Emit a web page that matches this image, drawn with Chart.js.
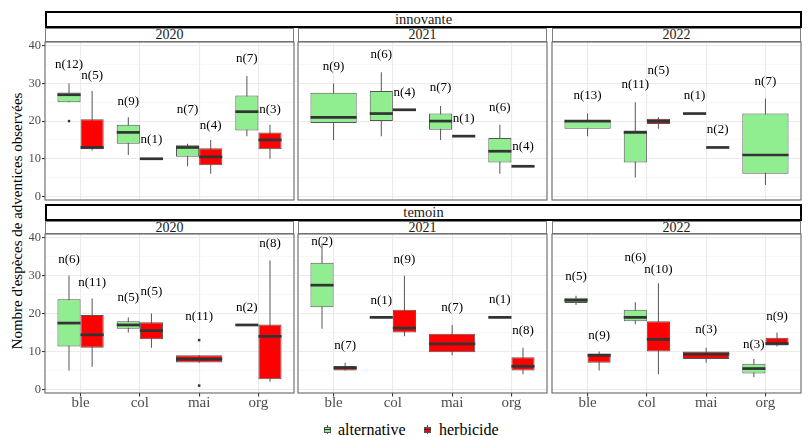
<!DOCTYPE html>
<html>
<head>
<meta charset="utf-8">
<script src="https://cdn.jsdelivr.net/npm/chart.js@4.4.1/dist/chart.umd.min.js"></script>
<style>
  body { margin: 0; background: #fff; font-family: "Liberation Serif", serif; }
  #wrap { position: relative; width: 809px; height: 437px; overflow: hidden; background: #fff; font-family: "Liberation Serif", serif; }
  canvas { position: absolute; }
  .outer, .year { position: absolute; box-sizing: border-box; text-align: center; color: #1a1a1a; background: #fff; font-family: "Liberation Serif", serif; }
  .outer { border: 2px solid #000; font-size: 14.5px; line-height: 13px; }
  .year { border: 1px solid #808080; font-size: 14px; line-height: 12px; }
  .ytitle { position: absolute; width: 320px; height: 20px; line-height: 20px; text-align: center; font-family: "Liberation Serif", serif;
            font-size: 15px; color: #000; transform: rotate(-90deg); transform-origin: 50% 50%; white-space: nowrap; }
  .key { position: absolute; width: 7px; height: 9px; }
  .key .w { position: absolute; left: 3px; top: 0; width: 1px; height: 9px; background: #555; }
  .key .b { position: absolute; left: 0; top: 1.5px; width: 7px; height: 6px; box-sizing: border-box; border: 1px solid #555; }
  .key .m { position: absolute; left: 0; top: 3.8px; width: 7px; height: 1.5px; background: #333; }
  .lgtext { position: absolute; font-family: "Liberation Serif", serif; font-size: 16px; line-height: 20px; color: #000; white-space: nowrap; }
</style>
</head>
<body>
<div id="wrap"></div>
<script>
const categories = ["ble", "col", "mai", "org"];
const years = ["2020", "2021", "2022"];
const systems = ["innovante", "temoin"];
const groupNames = ["alternative", "herbicide"];

// five numbers per category: [min, q1, median, q3, max]; null = no plot
const innovante2020Alt = [[25, 25, 27, 27.6, 30], [11, 14, 17, 19, 21], [8, 10.5, 13, 13.6, 14], [16, 17.5, 22.5, 26.8, 32]];
const innovante2020Herb = [[12.2, 12.5, 13, 20.5, 28], [10, 10, 10, 10, 10], [6, 8.3, 10.5, 12.8, 15], [10, 12.5, 15, 17, 19]];
const innovante2021Alt = [[15, 19.5, 21, 27.5, 30], [16, 20, 22, 28, 33], [15, 17.7, 20, 22, 24], [6, 9, 12, 15.5, 19]];
const innovante2021Herb = [null, [23, 23, 23, 23, 23], [16, 16, 16, 16, 16], [8, 8, 8, 8, 8]];
const innovante2022Alt = [[16, 18, 20, 20.2, 22], [5, 9, 17, 17.5, 25], [22, 22, 22, 22, 22], [3, 6, 11, 22, 26]];
const innovante2022Herb = [null, [18, 19.2, 20, 20.6, 21], [13, 13, 13, 13, 13], null];
const temoin2020Alt = [[5, 11.3, 17.5, 23.8, 30], [15, 16, 17, 18, 19], null, [17, 17, 17, 17, 17]];
const temoin2020Herb = [[6, 11, 14.4, 19.6, 24], [11, 13.2, 15.5, 17.7, 20], [7, 7.1, 8, 9, 9], [2, 2.7, 14, 17.1, 34]];
const temoin2021Alt = [[16, 21.7, 27.5, 33.4, 38.5], [19, 19, 19, 19, 19], null, [19, 19, 19, 19, 19]];
const temoin2021Herb = [[5, 5, 5.7, 6.2, 7], [14, 15, 16.2, 21, 30], [9, 9.8, 12, 14.7, 17], [4, 5, 6.1, 8.5, 11]];
const temoin2022Alt = [[22.3, 22.8, 23.5, 24.2, 24.7], [17.2, 18, 19, 21, 23], null, [3.2, 4.2, 5.5, 6.8, 8]];
const temoin2022Herb = [[5, 7, 9, 9.5, 10], [4, 10, 13.2, 18, 28], [7, 8, 9.3, 10, 11], [11.3, 11.6, 12.1, 13.6, 15]];

// outliers per category
const innovante2020AltOut = [[20], [], [], []];
const temoin2020HerbOut = [[], [], [13, 1], []];
const noOut = [[], [], [], []];

// sample sizes shown as n(...)
const innovante2020AltN = [12, 9, 7, 7];
const innovante2020HerbN = [5, 1, 4, 3];
const innovante2021AltN = [9, 6, 7, 6];
const innovante2021HerbN = [null, 4, 1, 4];
const innovante2022AltN = [13, 11, 1, 7];
const innovante2022HerbN = [null, 5, 2, null];
const temoin2020AltN = [6, 5, null, 2];
const temoin2020HerbN = [11, 5, 11, 8];
const temoin2021AltN = [2, 1, null, 1];
const temoin2021HerbN = [7, 9, 7, 8];
const temoin2022AltN = [5, 6, null, 3];
const temoin2022HerbN = [9, 10, 3, 9];

// height (y value) of the n(...) labels
const innovante2020AltLab = [35, 25.2, 23, 36.5];
const innovante2020HerbLab = [32, 15.2, 18.9, 23];
const innovante2021AltLab = [34.5, 37.6, 28.8, 23.7];
const innovante2021HerbLab = [null, 27.7, 20.8, 13.2];
const innovante2022AltLab = [26.8, 29.8, 26.8, 30.4];
const innovante2022HerbLab = [null, 33.4, 17.7, null];
const temoin2020AltLab = [34.3, 24.1, null, 21.6];
const temoin2020HerbLab = [28.1, 25.7, 19.1, 38.4];
const temoin2021AltLab = [39, 23.5, null, 23.8];
const temoin2021HerbLab = [11.6, 34.3, 21.6, 15.5];
const temoin2022AltLab = [29.7, 34.9, null, 11.7];
const temoin2022HerbLab = [14.2, 31.6, 15.7, 19.2];

const yTicks = [0, 5, 10, 15, 20, 25, 30, 35, 40];
const altColor = "#90EE90";
const herbColor = "#FF0000";

const wrap = document.getElementById("wrap");
const colLeft = [45, 298, 552];
const colWidth = 249;
const rowTop = [42, 234];
const rowHeight = [158, 159];
const M = 14;

function add(html) {
  wrap.insertAdjacentHTML("beforeend", html);
}

// strips
add(`<div class="outer" style="left:45px;top:11px;width:757px;height:17px">${systems[0]}</div>`);
add(`<div class="outer" style="left:45px;top:204px;width:757px;height:17px">${systems[1]}</div>`);
years.forEach((yr, c) => {
  add(`<div class="year" style="left:${colLeft[c]}px;top:28px;width:${colWidth}px;height:14px">${yr}</div>`);
  add(`<div class="year" style="left:${colLeft[c]}px;top:221px;width:${colWidth}px;height:13px">${yr}</div>`);
});
add(`<div class="ytitle" style="left:${17 - 160}px;top:${221 - 10}px">Nombre d'espèces de adventices observées</div>`);

// legend
add(`<div class="key" style="left:324px;top:425px"><div class="w"></div><div class="b" style="background:${altColor}"></div><div class="m"></div></div>`);
add(`<div class="lgtext" style="left:338px;top:420px">${groupNames[0]}</div>`);
add(`<div class="key" style="left:424px;top:425px"><div class="w"></div><div class="b" style="background:${herbColor}"></div><div class="m"></div></div>`);
add(`<div class="lgtext" style="left:439px;top:420px">${groupNames[1]}</div>`);

function buildDatasets(alt, herb, altOut, herbOut) {
  const groups = [
    { stats: alt, out: altOut, fill: altColor, stack: "alt" },
    { stats: herb, out: herbOut, fill: herbColor, stack: "herb" },
  ];
  const common = { categoryPercentage: 0.78, borderSkipped: false };
  const ds = [];
  // medians first so the group order is always alt, herb
  groups.forEach((g) => ds.push({
    ...common, stack: g.stack, barPercentage: 1, backgroundColor: "#333333", borderWidth: 0,
    data: g.stats.map((s, i) => ({ x: i, y: s ? [s[2] - 0.36, s[2] + 0.36] : null })),
  }));
  groups.forEach((g) => ds.push({
    ...common, stack: g.stack, barPercentage: 1, backgroundColor: g.fill, borderColor: "#555555", borderWidth: 1,
    data: g.stats.map((s, i) => ({ x: i, y: s && s[3] > s[1] ? [s[1], s[3]] : null })),
  }));
  [0, 1].forEach((k) => groups.forEach((g) => ds.push({
    ...common, stack: g.stack, barPercentage: 0.1, maxBarThickness: 2.5, backgroundColor: "#333333", borderWidth: 0,
    data: g.out.map((o, i) => ({ x: i, y: o[k] != null ? [o[k] - 0.33, o[k] + 0.33] : null })),
  })));
  groups.forEach((g) => ds.push({
    ...common, stack: g.stack, barPercentage: 0.1, maxBarThickness: 1, backgroundColor: "#555555", borderWidth: 0,
    data: g.stats.map((s, i) => ({ x: i, y: s && s[4] > s[0] ? [s[0], s[4]] : null })),
  }));
  return ds;
}

const panelDecor = {
  id: "panelDecor",
  afterDatasetsDraw(chart, args, opts) {
    const { ctx, chartArea, scales } = chart;
    ctx.save();
    ctx.font = '13px "Liberation Serif"';
    ctx.fillStyle = "#000";
    ctx.textAlign = "center";
    ctx.textBaseline = "middle";
    [opts.altN, opts.herbN].forEach((counts, g) => {
      const lab = g === 0 ? opts.altLab : opts.herbLab;
      const meta = chart.getDatasetMeta(g);
      counts.forEach((n, i) => {
        if (n == null) return;
        ctx.fillText(`n(${n})`, meta.data[i].x, scales.y.getPixelForValue(lab[i]));
      });
    });
    ctx.strokeStyle = "#666";
    ctx.lineWidth = 1.1;
    ctx.strokeRect(chartArea.left, chartArea.top, chartArea.width, chartArea.height);
    ctx.restore();
  },
};

function makePanel(row, col, alt, herb, altOut, herbOut, altN, herbN, altLab, herbLab) {
  const showY = col === 0;
  const showX = row === 1;
  const yw = showY ? 25 : 0;
  const xh = showX ? 24 : 0;
  const canvas = document.createElement("canvas");
  const w = colWidth + yw + 2 * M;
  const h = rowHeight[row] + xh + 2 * M;
  canvas.width = w;
  canvas.height = h;
  canvas.style.left = colLeft[col] - yw - M + "px";
  canvas.style.top = rowTop[row] - M + "px";
  canvas.style.width = w + "px";
  canvas.style.height = h + "px";
  wrap.appendChild(canvas);

  new Chart(canvas, {
    type: "bar",
    data: { datasets: buildDatasets(alt, herb, altOut, herbOut) },
    plugins: [panelDecor],
    options: {
      responsive: false,
      animation: false,
      devicePixelRatio: 1,
      layout: { padding: M },
      datasets: { bar: { skipNull: true, grouped: true } },
      plugins: {
        legend: { display: false },
        tooltip: { enabled: false },
        panelDecor: { altN, herbN, altLab, herbLab },
      },
      scales: {
        x: {
          type: "linear",
          min: -0.6,
          max: 3.6,
          offset: false,
          stacked: true,
          afterBuildTicks: (s) => { s.ticks = categories.map((c, i) => ({ value: i })); },
          afterFit: (s) => { s.height = xh; },
          border: { display: false },
          grid: { offset: false, color: "#ebebeb", lineWidth: 1.1, drawTicks: showX, tickLength: 3.5, tickColor: "#333" },
          ticks: {
            display: showX,
            autoSkip: false,
            maxRotation: 0,
            padding: -2,
            color: "#4d4d4d",
            font: { family: "Liberation Serif", size: 15 },
            callback: (v) => categories[v],
          },
        },
        y: {
          min: -0.95,
          max: 41,
          stacked: false,
          afterBuildTicks: (s) => { s.ticks = yTicks.map((v) => ({ value: v })); },
          afterFit: (s) => { s.width = yw; },
          border: { display: false },
          grid: {
            color: (c) => (c.tick && c.tick.value % 10 === 0 ? "#ebebeb" : "#f3f3f3"),
            lineWidth: (c) => (c.tick && c.tick.value % 10 === 0 ? 1.1 : 0.6),
            drawTicks: showY,
            tickLength: 3,
            tickColor: (c) => (c.tick && c.tick.value % 10 === 0 ? "#333" : "rgba(0,0,0,0)"),
          },
          ticks: {
            display: showY,
            padding: 1,
            color: "#4d4d4d",
            font: { family: "Liberation Serif", size: 12.5 },
            callback: (v) => (v % 10 === 0 ? String(v) : ""),
          },
        },
      },
    },
  });
}

makePanel(0, 0, innovante2020Alt, innovante2020Herb, innovante2020AltOut, noOut, innovante2020AltN, innovante2020HerbN, innovante2020AltLab, innovante2020HerbLab);
makePanel(0, 1, innovante2021Alt, innovante2021Herb, noOut, noOut, innovante2021AltN, innovante2021HerbN, innovante2021AltLab, innovante2021HerbLab);
makePanel(0, 2, innovante2022Alt, innovante2022Herb, noOut, noOut, innovante2022AltN, innovante2022HerbN, innovante2022AltLab, innovante2022HerbLab);
makePanel(1, 0, temoin2020Alt, temoin2020Herb, noOut, temoin2020HerbOut, temoin2020AltN, temoin2020HerbN, temoin2020AltLab, temoin2020HerbLab);
makePanel(1, 1, temoin2021Alt, temoin2021Herb, noOut, noOut, temoin2021AltN, temoin2021HerbN, temoin2021AltLab, temoin2021HerbLab);
makePanel(1, 2, temoin2022Alt, temoin2022Herb, noOut, noOut, temoin2022AltN, temoin2022HerbN, temoin2022AltLab, temoin2022HerbLab);
</script>
</body>
</html>
